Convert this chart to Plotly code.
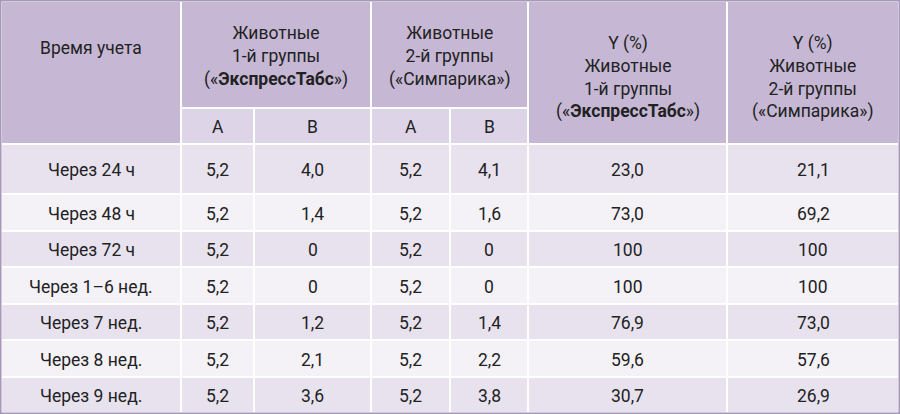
import plotly.graph_objects as go

times = ["Через 24 ч", "Через 48 ч", "Через 72 ч", "Через 1–6 нед.", "Через 7 нед.", "Через 8 нед.", "Через 9 нед."]
a1 = ["5,2"] * 7
b1 = ["4,0", "1,4", "0", "0", "1,2", "2,1", "3,6"]
a2 = ["5,2"] * 7
b2 = ["4,1", "1,6", "0", "0", "1,4", "2,2", "3,8"]
y1 = ["23,0", "73,0", "100", "100", "76,9", "59,6", "30,7"]
y2 = ["21,1", "69,2", "100", "100", "73,0", "57,6", "26,9"]
sub_labels = ["A", "B", "A", "B"]
head_time = "Время учета"
head_g1 = "Животные<br>1-й группы<br>(«<b>ЭкспрессТабс</b>»)"
head_g2 = "Животные<br>2-й группы<br>(«Симпарика»)"
head_y1 = "Y (%)<br>Животные<br>1-й группы<br>(«<b>ЭкспрессТабс</b>»)"
head_y2 = "Y (%)<br>Животные<br>2-й группы<br>(«Симпарика»)"

W, H = 900, 414
xs = [1, 181, 254, 371, 450, 528, 727, 899]
rows = [144, 194, 231, 267, 304, 340, 377, 413]
C_HEAD = "#c6b8d5"
C_SUB = "#ddd4e7"
C_DARK = "#e8e2ef"
C_LIGHT = "#f4f1f7"
FONT = dict(family="Roboto", size=17.5, color="#222222")

shapes, ann = [], []
def rect(x0, y0, x1, y1, fill):
    shapes.append(dict(type="rect", x0=x0, x1=x1, y0=H - y0, y1=H - y1, fillcolor=fill,
                       line=dict(color="white", width=2), layer="below"))
def text(x, y, t):
    ann.append(dict(x=x, y=H - y, text=t, showarrow=False, font=FONT, xanchor="center", yanchor="middle", align="center"))

rect(xs[0], 1, xs[1], 144, C_HEAD); text((xs[0] + xs[1]) / 2, 48, head_time)
rect(xs[1], 1, xs[3], 108, C_HEAD); text((xs[1] + xs[3]) / 2, 56, head_g1)
rect(xs[3], 1, xs[5], 108, C_HEAD); text((xs[3] + xs[5]) / 2, 56, head_g2)
rect(xs[5], 1, xs[6], 144, C_HEAD); text((xs[5] + xs[6]) / 2, 77, head_y1)
rect(xs[6], 1, xs[7], 144, C_HEAD); text((xs[6] + xs[7]) / 2, 77, head_y2)
for i, lab in enumerate(sub_labels):
    rect(xs[1 + i], 108, xs[2 + i], 144, C_SUB); text((xs[1 + i] + xs[2 + i]) / 2, 127, lab)

cols = [times, a1, b1, a2, b2, y1, y2]
for r in range(len(times)):
    fill = C_DARK if r % 2 == 0 else C_LIGHT
    for c, col in enumerate(cols):
        rect(xs[c], rows[r], xs[c + 1], rows[r + 1], fill)
        text((xs[c] + xs[c + 1]) / 2, (rows[r] + rows[r + 1]) / 2 + 1, col[r])

shapes.append(dict(type="rect", x0=0.5, x1=899.5, y0=0.5, y1=413.5, line=dict(color="#a597b8", width=2)))

fig = go.Figure()
fig.update_layout(autosize=True, margin=dict(l=0, r=0, t=0, b=0), paper_bgcolor="white", plot_bgcolor="white",
                  shapes=shapes, annotations=ann,
                  xaxis=dict(range=[0, W], visible=False, fixedrange=True),
                  yaxis=dict(range=[0, H], visible=False, fixedrange=True), showlegend=False)
post = ("document.body.style.margin='0';document.body.style.overflow='hidden';"
        "var gd=document.getElementsByClassName('plotly-graph-div')[0];"
        "gd.style.width='100vw';gd.style.height='100vh';Plotly.Plots.resize(gd);")
fig.write_html("out.html", default_width="100vw", default_height="100vh",
               config=dict(displayModeBar=False, responsive=True), post_script=post)
